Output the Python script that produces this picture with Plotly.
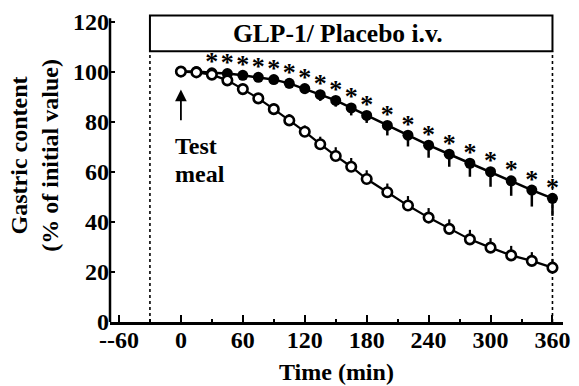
import plotly.graph_objects as go

# ---- data ----
time_min = [0, 15, 30, 45, 60, 75, 90, 105, 120, 135, 150, 165, 180,
            200, 220, 240, 260, 280, 300, 320, 340, 360]
glp1_mean = [100, 100, 99.5, 99.2, 98.5, 97.7, 96.8, 95.3, 93.2, 90.8, 88.5, 85.5, 82.5,
             78.5, 74.6, 70.6, 67.0, 63.4, 60.0, 56.4, 52.7, 49.4]
glp1_sem = [0, 0.5, 0.8, 1.0, 1.2, 1.5, 1.8, 2.0, 2.2, 2.5, 2.5, 3.0, 3.0,
            4.0, 4.5, 5.0, 5.0, 5.4, 6.0, 6.0, 6.6, 7.0]
placebo_mean = [100, 99.7, 98.8, 96.5, 93.0, 89.3, 85.0, 80.5, 76.0, 71.0, 66.3, 62.0, 57.1,
                51.8, 46.5, 41.7, 37.2, 33.0, 29.7, 26.6, 24.4, 21.7]
placebo_sem = [0, 0.5, 1.0, 1.5, 2.0, 2.0, 2.2, 2.5, 2.5, 3.0, 3.5, 3.5, 3.5,
               3.5, 3.8, 3.8, 3.8, 3.8, 3.8, 3.8, 3.5, 3.5]
significant = [False, False] + [True] * 20

x_tick_vals = [-60, 0, 60, 120, 180, 240, 300, 360]
x_tick_text = ["--60", "0", "60", "120", "180", "240", "300", "360"]
y_tick_vals = [0, 20, 40, 60, 80, 100, 120]

infusion_start, infusion_end = -30, 360
infusion_label = "GLP-1/ Placebo i.v."
meal_time = 0
meal_label_lines = ["Test", "meal"]

# ---- style ----
FONT = "Liberation Serif"
FS = 24
X_RANGE = [-68.7, 370.2]
Y_RANGE = [0, 123]
BOX_BOTTOM, BOX_TOP = 108.1, 122.4
STAR_OFFSET = 3.6

fig = go.Figure()

fig.add_trace(go.Scatter(
    x=time_min, y=glp1_mean, mode="lines+markers",
    line=dict(color="black", width=2.5),
    marker=dict(symbol="circle", size=11, color="black"),
    error_y=dict(type="data", symmetric=False, array=[0] * len(glp1_sem),
                 arrayminus=glp1_sem, color="black", thickness=2.5, width=0),
    showlegend=False, cliponaxis=False))

fig.add_trace(go.Scatter(
    x=time_min, y=placebo_mean, mode="lines+markers",
    line=dict(color="black", width=2.2),
    marker=dict(symbol="circle", size=9.5, color="white",
                line=dict(color="black", width=2.6)),
    error_y=dict(type="data", symmetric=False, array=placebo_sem,
                 arrayminus=[0] * len(placebo_sem), color="black", thickness=2.2, width=0),
    showlegend=False, cliponaxis=False))

star_x = [t for t, s in zip(time_min, significant) if s]
star_y = [m + STAR_OFFSET for m, s in zip(glp1_mean, significant) if s]
fig.add_trace(go.Scatter(
    x=star_x, y=star_y, mode="text", text=["*"] * len(star_x),
    textposition="middle center",
    textfont=dict(family=FONT, size=26, color="black", weight="bold"),
    showlegend=False, cliponaxis=False))

# infusion box and dotted limits
fig.add_shape(type="rect", xref="x", yref="y", x0=infusion_start, x1=infusion_end,
              y0=BOX_BOTTOM, y1=BOX_TOP, line=dict(color="black", width=2), fillcolor="white")
for xv in (infusion_start, infusion_end):
    fig.add_shape(type="line", xref="x", yref="y", x0=xv, x1=xv, y0=0, y1=BOX_BOTTOM,
                  line=dict(color="black", width=1.6, dash="dot"), layer="below")
# y axis line (stops just above 120)
fig.add_shape(type="line", xref="paper", yref="y", x0=0, x1=0, y0=0, y1=121.3,
              line=dict(color="black", width=2.5))

fig.add_annotation(x=152, y=(BOX_BOTTOM + BOX_TOP) / 2, xref="x", yref="y",
                   text=infusion_label, showarrow=False,
                   font=dict(family=FONT, size=25.5, color="black", weight="bold"))

# test meal arrow
fig.add_annotation(x=meal_time, y=92.8, ax=meal_time, ay=80, xref="x", yref="y",
                   axref="x", ayref="y", text="", showarrow=True,
                   arrowhead=2, arrowsize=1.3, arrowwidth=1.8, arrowcolor="black")
for line_text, yv in zip(meal_label_lines, (70.2, 59.1)):
    fig.add_annotation(x=-7.6, y=yv, xref="x", yref="y", xanchor="left", yanchor="middle",
                       text=line_text, showarrow=False,
                       font=dict(family=FONT, size=FS, color="black", weight="bold"))

# axis titles
fig.add_annotation(x=0.5, y=0, xref="paper", yref="paper", yanchor="top", yshift=-35,
                   text="Time (min)", showarrow=False,
                   font=dict(family=FONT, size=FS, color="black", weight="bold"))
fig.add_annotation(x=-0.1685, y=0.542, xref="paper", yref="paper",
                   xanchor="center", yanchor="middle", textangle=-90,
                   text="Gastric content<br>(% of initial value)", showarrow=False,
                   font=dict(family=FONT, size=FS, color="black", weight="bold"))

fig.update_layout(
    width=579, height=386,
    margin=dict(l=110, r=9, t=12, b=64),
    paper_bgcolor="white", plot_bgcolor="white",
    xaxis=dict(range=X_RANGE, tickvals=x_tick_vals, ticktext=x_tick_text,
               ticks="inside", ticklen=7, tickwidth=2, tickcolor="black",
               ticklabelstandoff=-6,
               minor=dict(dtick=30, tick0=0, ticks="inside", ticklen=3, tickwidth=2,
                          tickcolor="black", showgrid=False),
               showline=True, linewidth=2.5, linecolor="black",
               showgrid=False, zeroline=False,
               tickfont=dict(family=FONT, size=FS, color="black", weight="bold")),
    yaxis=dict(range=Y_RANGE, tickvals=y_tick_vals,
               ticks="inside", ticklen=5, tickwidth=2, tickcolor="black",
               showline=False, showgrid=False, zeroline=False,
               tickfont=dict(family=FONT, size=FS, color="black", weight="bold")),
)

fig.write_html("out.html", config={"displayModeBar": False},
               post_script="document.body.style.margin='0';document.body.style.overflow='hidden';")
